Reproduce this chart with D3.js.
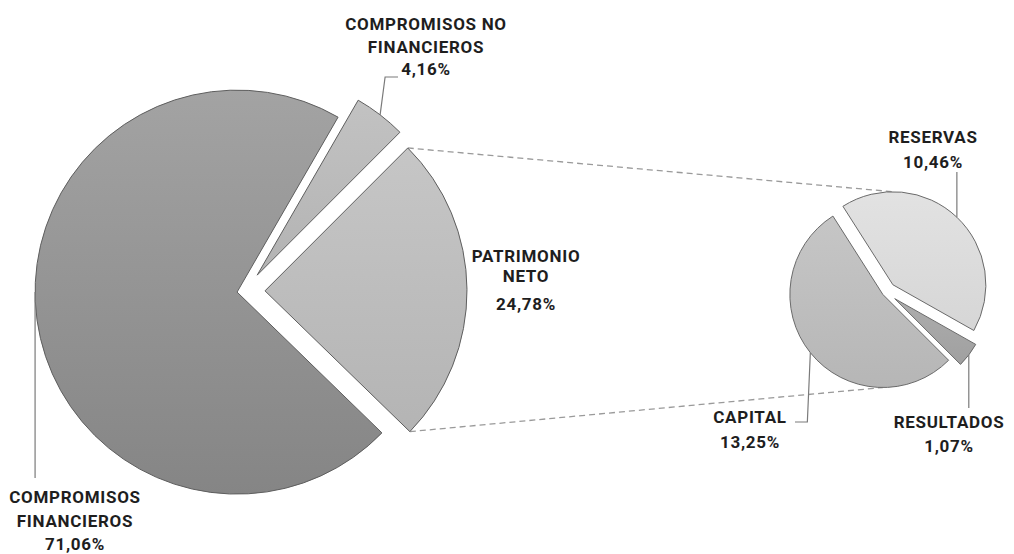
<!DOCTYPE html>
<html>
<head>
<meta charset="utf-8">
<script src="https://cdn.jsdelivr.net/npm/d3@7"></script>
<style>
  html, body { margin: 0; padding: 0; background: #ffffff; }
  svg { display: block; }
  .lbl { font-family: Roboto, "Noto Sans", sans-serif; font-weight: 700; font-size: 17px; letter-spacing: 0.7px; fill: #1e1e1e; }
</style>
</head>
<body>
<svg id="chart" width="1014" height="554"></svg>
<script>
// ---- data ----
const mainCategories = ["COMPROMISOS NO FINANCIEROS", "PATRIMONIO NETO", "COMPROMISOS FINANCIEROS"];
const mainValues = [4.16, 24.78, 71.06];
const subCategories = ["RESERVAS", "RESULTADOS", "CAPITAL"];
const subValues = [10.46, 1.07, 13.25];

// ---- layout / style ----
const W = 1014, H = 554;
const mainCenter = [245, 291], mainR = 202, mainStart = Math.PI / 6;
const mainExplode = [20, 20, 8];
const mainFill = [["#c2c2c2", "#b3b3b3"], ["#c6c6c6", "#b4b4b4"], ["#a3a3a3", "#858585"]];
const subCenter = [886, 292], subR = 93, subStart = -32.5 * Math.PI / 180;
const subExplode = [10, 11, 4];
const subFill = [["#e2e2e2", "#d6d6d6"], ["#adadad", "#a0a0a0"], ["#c6c6c6", "#b6b6b6"]];

const fmt = v => v.toFixed(2).replace(".", ",") + "%";

const svg = d3.select("#chart");
const defs = svg.append("defs");
function grad(id, c) {
  const g = defs.append("linearGradient").attr("id", id)
    .attr("x1", 0).attr("y1", 0).attr("x2", 0).attr("y2", 1);
  g.append("stop").attr("offset", "0%").attr("stop-color", c[0]);
  g.append("stop").attr("offset", "100%").attr("stop-color", c[1]);
}
mainFill.forEach((c, i) => grad("gm" + i, c));
subFill.forEach((c, i) => grad("gs" + i, c));

const dir = a => [Math.sin(a), -Math.cos(a)];

// pies
const mainPie = d3.pie().sort(null).startAngle(mainStart).endAngle(mainStart + 2 * Math.PI)(mainValues);
const subPie = d3.pie().sort(null).startAngle(subStart).endAngle(subStart + 2 * Math.PI)(subValues);
const mainArc = d3.arc().innerRadius(0).outerRadius(mainR);
const subArc = d3.arc().innerRadius(0).outerRadius(subR);

function sliceCenter(center, d, e) {
  const m = dir((d.startAngle + d.endAngle) / 2);
  return [center[0] + m[0] * e, center[1] + m[1] * e];
}
const mainCenters = mainPie.map((d, i) => sliceCenter(mainCenter, d, mainExplode[i]));
const subCenters = subPie.map((d, i) => sliceCenter(subCenter, d, subExplode[i]));
const onArc = (c, r, a) => { const v = dir(a); return [c[0] + v[0] * r, c[1] + v[1] * r]; };

// dashed connectors from Patrimonio Neto to the sub pie
const pn = mainPie[1];
const pTop = onArc(mainCenters[1], mainR, pn.startAngle);
const pBot = onArc(mainCenters[1], mainR, pn.endAngle);
const sTop = onArc(subCenters[0], subR, 2 * Math.PI);   // top of RESERVAS
const sBot = onArc(subCenters[2], subR, Math.PI);       // bottom of CAPITAL
svg.append("g").selectAll("line").data([[pTop, sTop], [pBot, sBot]]).join("line")
  .attr("x1", d => d[0][0]).attr("y1", d => d[0][1])
  .attr("x2", d => d[1][0]).attr("y2", d => d[1][1])
  .attr("stroke", "#9a9a9a").attr("stroke-width", 1.3).attr("stroke-dasharray", "6,4");

// main slices
svg.append("g").selectAll("path").data(mainPie).join("path")
  .attr("transform", (d, i) => `translate(${mainCenters[i][0]},${mainCenters[i][1]})`)
  .attr("d", mainArc)
  .attr("fill", (d, i) => `url(#gm${i})`)
  .attr("stroke", "#5e5e5e").attr("stroke-width", 1).attr("stroke-linejoin", "miter");

// sub slices
svg.append("g").selectAll("path").data(subPie).join("path")
  .attr("transform", (d, i) => `translate(${subCenters[i][0]},${subCenters[i][1]})`)
  .attr("d", subArc)
  .attr("fill", (d, i) => `url(#gs${i})`)
  .attr("stroke", "#6a6a6a").attr("stroke-width", 1);

// leader lines (start at each slice's mid-angle arc point)
const mid = d => (d.startAngle + d.endAngle) / 2;
const nfP = onArc(mainCenters[0], mainR, mid(mainPie[0]));
const cfP = onArc(mainCenters[2], mainR, 1.5 * Math.PI);
const rsP = onArc(subCenters[0], subR, mid(subPie[0]));
const reP = onArc(subCenters[1], subR, mid(subPie[1]));
const caP = onArc(subCenters[2], subR, mid(subPie[2]));
const leaders = [
  [nfP, [nfP[0] + 5, 77], [398, 77]],
  [cfP, [cfP[0], 478]],
  [rsP, [rsP[0], 172]],
  [reP, [reP[0], 408]],
  [caP, [caP[0] - 3, 422], [795, 422]]
];
svg.append("g").selectAll("path").data(leaders).join("path")
  .attr("d", d3.line())
  .attr("fill", "none").attr("stroke", "#7a7a7a").attr("stroke-width", 1.2);

// labels
const labels = [
  { x: 426, lines: [["COMPROMISOS NO", 30], ["FINANCIEROS", 53], [fmt(mainValues[0]), 75]] },
  { x: 526, lines: [["PATRIMONIO", 262], ["NETO", 282], [fmt(mainValues[1]), 310]] },
  { x: 75,  lines: [["COMPROMISOS", 503], ["FINANCIEROS", 527], [fmt(mainValues[2]), 550]] },
  { x: 933, lines: [[subCategories[0], 143], [fmt(subValues[0]), 168]] },
  { x: 949, lines: [[subCategories[1], 428], [fmt(subValues[1]), 452]] },
  { x: 750, lines: [[subCategories[2], 423], [fmt(subValues[2]), 448]] }
];
const lg = svg.append("g");
labels.forEach(l => {
  lg.selectAll(null).data(l.lines).join("text")
    .attr("class", "lbl")
    .attr("x", l.x).attr("y", d => d[1])
    .attr("text-anchor", "middle")
    .text(d => d[0]);
});
</script>
</body>
</html>
